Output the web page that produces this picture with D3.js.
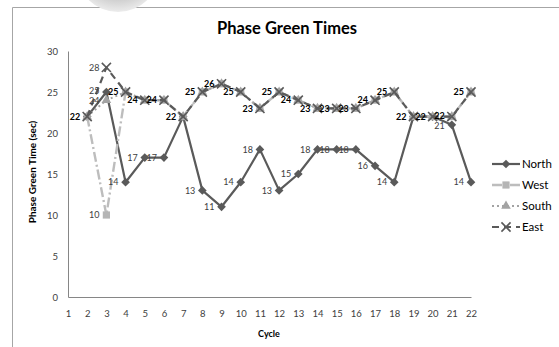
<!DOCTYPE html>
<html>
<head>
<meta charset="utf-8">
<script src="https://cdn.jsdelivr.net/npm/d3@7"></script>
<style>
  html, body { margin: 0; padding: 0; background: #fff; }
  svg { display: block; font-family: Lato, "Noto Sans", sans-serif; }
</style>
</head>
<body>
<svg id="chart" width="559" height="347"></svg>
<script>
// Cycle numbers shown along the x axis
const cycles = [1, 2, 3, 4, 5, 6, 7, 8, 9, 10, 11, 12, 13, 14, 15, 16, 17, 18, 19, 20, 21, 22];
// Green time per approach (sec); cycle 1 has no reading
const north = [null, 22, 25, 14, 17, 17, 22, 13, 11, 14, 18, 13, 15, 18, 18, 18, 16, 14, 22, 22, 21, 14];
const west  = [null, 22, 10, 25, 24, 24, 22, 25, 26, 25, 23, 25, 24, 23, 23, 23, 24, 25, 22, 22, 22, 25];
const south = [null, 22, 24, 25, 24, 24, 22, 25, 26, 25, 23, 25, 24, 23, 23, 23, 24, 25, 22, 22, 22, 25];
const east  = [null, 22, 28, 25, 24, 24, 22, 25, 26, 25, 23, 25, 24, 23, 23, 23, 24, 25, 22, 22, 22, 25];
const yTicks = [0, 5, 10, 15, 20, 25, 30];
const seriesNames = ["North", "West", "South", "East"];

const styles = {
  North: { color: "#5a5a5a", dash: null, width: 2.2, marker: "diamond", mfill: "#5a5a5a" },
  West:  { color: "#bdbdbd", dash: "10,3,2,3", width: 2.4, marker: "square", mfill: "#b5b5b5" },
  South: { color: "#a3a3a3", dash: "2,3", width: 2.0, marker: "triangle", mfill: "#a3a3a3" },
  East:  { color: "#5a5a5a", dash: "7,5", width: 2.2, marker: "times", mfill: "#5a5a5a" }
};

const series = [
  { name: "North", values: north },
  { name: "West", values: west },
  { name: "South", values: south },
  { name: "East", values: east }
];

const svg = d3.select("#chart");

// soft grey shape overlapping the top edge
const defs = svg.append("defs");
const rg = defs.append("radialGradient").attr("id", "blob")
  .attr("cx", "50%").attr("cy", "40%").attr("r", "60%");
rg.append("stop").attr("offset", "0%").attr("stop-color", "#c4c4c4");
rg.append("stop").attr("offset", "75%").attr("stop-color", "#cfcfcf");
rg.append("stop").attr("offset", "100%").attr("stop-color", "#ececec");

// chart frame (top and left edges)
svg.append("path")
  .attr("d", "M12.5,347 L12.5,7.5 L559,7.5")
  .attr("fill", "none").attr("stroke", "#a6a6a6").attr("stroke-width", 1);

svg.append("ellipse")
  .attr("cx", 118).attr("cy", -30).attr("rx", 42).attr("ry", 42)
  .attr("fill", "url(#blob)");

const x = d3.scalePoint().domain(cycles).range([68, 471]).padding(0);
const y = d3.scaleLinear().domain([0, 30]).range([297, 51]);

// title
svg.append("text")
  .attr("x", 287).attr("y", 34)
  .attr("text-anchor", "middle")
  .attr("font-size", 16.5).attr("font-weight", "bold").attr("fill", "#000")
  .text("Phase Green Times");

// axes
const yAxis = svg.append("g").attr("transform", "translate(68,0)")
  .call(d3.axisLeft(y).tickValues(yTicks).tickSize(0).tickPadding(10));
const xAxis = svg.append("g").attr("transform", "translate(0,297)")
  .call(d3.axisBottom(x).tickSize(0).tickPadding(13));
[yAxis, xAxis].forEach(g => {
  g.select(".domain").attr("stroke", "#868686").attr("stroke-width", 1);
  g.selectAll("text").attr("font-family", "Lato, 'Noto Sans', sans-serif")
    .attr("font-size", 9.5).attr("fill", "#404040");
});

// axis titles
svg.append("text")
  .attr("transform", "translate(36,172) rotate(-90)")
  .attr("text-anchor", "middle")
  .attr("font-size", 10).attr("font-weight", "bold").attr("fill", "#000")
  .text("Phase Green Time (sec)");
svg.append("text")
  .attr("x", 269).attr("y", 337)
  .attr("text-anchor", "middle")
  .attr("font-size", 9).attr("font-weight", "bold").attr("fill", "#000")
  .text("Cycle");

const symbolType = {
  diamond: d3.symbolDiamond2, square: d3.symbolSquare,
  triangle: d3.symbolTriangle, times: d3.symbolTimes
};
const symbolSize = { diamond: 48, square: 52, triangle: 40, times: 56 };

function drawMarker(g, name, cx, cy) {
  const st = styles[name];
  const p = g.append("path")
    .attr("d", d3.symbol().type(symbolType[st.marker]).size(symbolSize[st.marker])())
    .attr("transform", `translate(${cx},${cy})`);
  if (st.marker === "times") {
    p.attr("fill", "none").attr("stroke", st.mfill).attr("stroke-width", 1.6);
  } else {
    p.attr("fill", st.mfill);
  }
}

const line = d3.line()
  .defined(d => d.v != null)
  .x(d => x(d.c)).y(d => y(d.v));

const plot = svg.append("g");
series.forEach(s => {
  const st = styles[s.name];
  const pts = s.values.map((v, i) => ({ c: cycles[i], v }));
  plot.append("path")
    .datum(pts)
    .attr("d", line)
    .attr("fill", "none")
    .attr("stroke", st.color)
    .attr("stroke-width", st.width)
    .attr("stroke-dasharray", st.dash)
    .attr("stroke-linejoin", "round");
  const mg = plot.append("g");
  pts.filter(d => d.v != null).forEach(d => drawMarker(mg, s.name, x(d.c), y(d.v)));
});

// data labels, placed left of each point; coincident labels print darker
const labelMap = new Map();
series.forEach(s => s.values.forEach((v, i) => {
  if (v == null) return;
  const key = cycles[i] + ":" + v;
  if (!labelMap.has(key)) labelMap.set(key, { c: cycles[i], v, n: 0 });
  labelMap.get(key).n += 1;
}));
const labelList = Array.from(labelMap.values());
labelList.forEach(l => { l.ly = y(l.v); });
// spread labels of the same cycle that sit too close vertically
const minGap = 9.6;
d3.groups(labelList, l => l.c).forEach(([, group]) => {
  group.sort((a, b) => a.ly - b.ly);
  for (let i = 1; i < group.length; i++) {
    const gap = group[i].ly - group[i - 1].ly;
    if (gap < minGap) {
      const push = (minGap - gap) / 2;
      group[i - 1].ly -= push;
      group[i].ly += push;
    }
  }
});
const labels = svg.append("g");
labelList.forEach(l => {
  labels.append("text")
    .attr("x", x(l.c) - 7).attr("y", l.ly)
    .attr("dy", "0.35em")
    .attr("text-anchor", "end")
    .attr("font-size", 9)
    .attr("font-weight", l.n > 1 ? "bold" : "normal")
    .attr("fill", l.n > 1 ? "#000" : "#404040")
    .text(l.v);
});

// legend
const legend = svg.append("g");
seriesNames.forEach((name, i) => {
  const st = styles[name];
  const ly = 164 + i * 21;
  legend.append("line")
    .attr("x1", 492).attr("x2", 520).attr("y1", ly).attr("y2", ly)
    .attr("stroke", st.color).attr("stroke-width", st.width)
    .attr("stroke-dasharray", st.dash);
  drawMarker(legend, name, 506, ly);
  legend.append("text")
    .attr("x", 522).attr("y", ly).attr("dy", "0.35em")
    .attr("font-size", 11.5).attr("fill", "#000")
    .text(name);
});
</script>
</body>
</html>
